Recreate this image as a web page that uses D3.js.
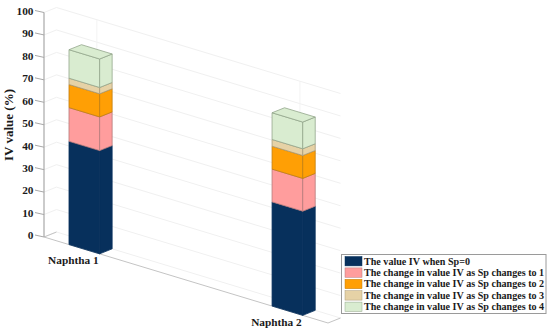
<!DOCTYPE html>
<html><head><meta charset="utf-8">
<script src="https://cdn.jsdelivr.net/npm/d3@7"></script>
<style>html,body{margin:0;background:#fff}svg{display:block}text{font-family:"Liberation Serif",serif;font-weight:bold;fill:#1a1a1a}</style>
</head><body><svg id="c" width="550" height="335"></svg>
<script>
const categories = ["Naphtha 1", "Naphtha 2"];
const seriesNames = [
  "The value IV when Sp=0",
  "The change in value IV as Sp changes to 1",
  "The change in value IV as Sp changes to 2",
  "The change in value IV as Sp changes to 3",
  "The change in value IV as Sp changes to 4"
];
const sp0 = [46, 46.4];
const sp1 = [15, 14.6];
const sp2 = [10.3, 10.2];
const sp3 = [2.8, 3];
const sp4 = [12.7, 11.9];
const colors = ["#07305c", "#ff9d9d", "#ff9f05", "#e6d2a6", "#d9ecd0"];
const edgeColors = ["#07305c", "#b57a7a", "#c07d10", "#a89a78", "#93a68c"];
const yTicks = d3.range(0, 101, 10);

const svg = d3.select("#c");
const origin = [44, 237], xVec = [284, 86], zVec = [12.5, -5];
const yPx = d3.scaleLinear().domain([0, 100]).range([0, 224.5]);
const xBand = d3.scaleBand().domain(categories).range([0.088, 0.911]).paddingInner(0.849).paddingOuter(0);
// a: along category axis (0..1), b: depth (0..1), v: value
const P = (a, b, v) => [origin[0] + a * xVec[0] + b * zVec[0], origin[1] + a * xVec[1] + b * zVec[1] - yPx(v)];
const line = pts => d3.line()(pts) + "Z";
const seg = (p, q, col, w) => svg.append("line").attr("x1", p[0]).attr("y1", p[1]).attr("x2", q[0]).attr("y2", q[1]).attr("stroke", col).attr("stroke-width", w);

const grid = "#f0f0f0";
yTicks.forEach(v => {
  seg(P(0, 0, v), P(0, 1, v), grid, 1);
  seg(P(0, 1, v), P(1, 1, v), grid, 1);
});
categories.forEach(c => {
  const m = xBand(c) + xBand.bandwidth() / 2;
  seg(P(m, 1, 0), P(m, 1, 100), "#f3f3f3", 1);
  seg(P(m, 0, 0), P(m, 1, 0), grid, 1);
});
seg(P(0, 0, 0), P(1, 0, 0), "#c4c4c4", 1);
seg(P(1, 0, 0), P(1, 1, 0), "#c4c4c4", 1);
seg(P(0, 0, 0), P(0, 1, 0), "#c4c4c4", 1);
seg(P(0, 0, 0), P(0, 0, 100), "#a8a8a8", 1.2);

yTicks.forEach(v => {
  const p = P(0, 0, v);
  seg([p[0] - 9, p[1] - 2], p, "#a8a8a8", 1);
  svg.append("text").attr("x", 33.5).attr("y", p[1] - 1.5).attr("dy", "0.34em")
    .attr("text-anchor", "end").attr("font-size", 11.3).text(v);
});

const series = [sp0, sp1, sp2, sp3, sp4];
categories.forEach((c, i) => {
  const a0 = xBand(c), a1 = a0 + xBand.bandwidth();
  let base = 0;
  series.forEach((s, k) => {
    const top = base + s[i];
    const e = k === 0 ? colors[0] : edgeColors[k];
    svg.append("path").attr("d", line([P(a0, 0, base), P(a1, 0, base), P(a1, 0, top), P(a0, 0, top)]))
      .attr("fill", colors[k]).attr("stroke", e).attr("stroke-width", 0.8);
    svg.append("path").attr("d", line([P(a1, 0, base), P(a1, 1, base), P(a1, 1, top), P(a1, 0, top)]))
      .attr("fill", colors[k]).attr("stroke", e).attr("stroke-width", 0.8);
    if (k === series.length - 1) {
      svg.append("path").attr("d", line([P(a0, 0, top), P(a1, 0, top), P(a1, 1, top), P(a0, 1, top)]))
        .attr("fill", colors[k]).attr("stroke", e).attr("stroke-width", 0.8);
    }
    base = top;
  });
  const lab = P(a1, 0, 0);
  svg.append("text").attr("x", lab[0] - 1).attr("y", lab[1] + (i === 0 ? 10 : 11)).attr("text-anchor", "end")
    .attr("font-size", 11.3).text(c);
});

svg.append("text").attr("transform", "translate(13,125) rotate(-90)").attr("text-anchor", "middle")
  .attr("font-size", 13).text("IV value (%)");

const lx = 341, ly = 254, rowY = d3.scaleBand().domain(seriesNames).range([1.5, 58.5]);
svg.append("rect").attr("x", lx + .5).attr("y", ly + .5).attr("width", 204.5).attr("height", 59)
  .attr("fill", "#fff").attr("stroke", "#9a9a9a");
seriesNames.forEach((n, k) => {
  const y = ly + rowY(n);
  svg.append("rect").attr("x", lx + 4).attr("y", y + 1).attr("width", 17).attr("height", rowY.bandwidth() - 2)
    .attr("fill", colors[k]).attr("stroke", k === 0 ? colors[0] : edgeColors[k]).attr("stroke-width", .5);
  svg.append("text").attr("x", lx + 23).attr("y", y + rowY.bandwidth() / 2).attr("dy", "0.34em")
    .attr("font-size", 10.1).text(n);
});
</script></body></html>
